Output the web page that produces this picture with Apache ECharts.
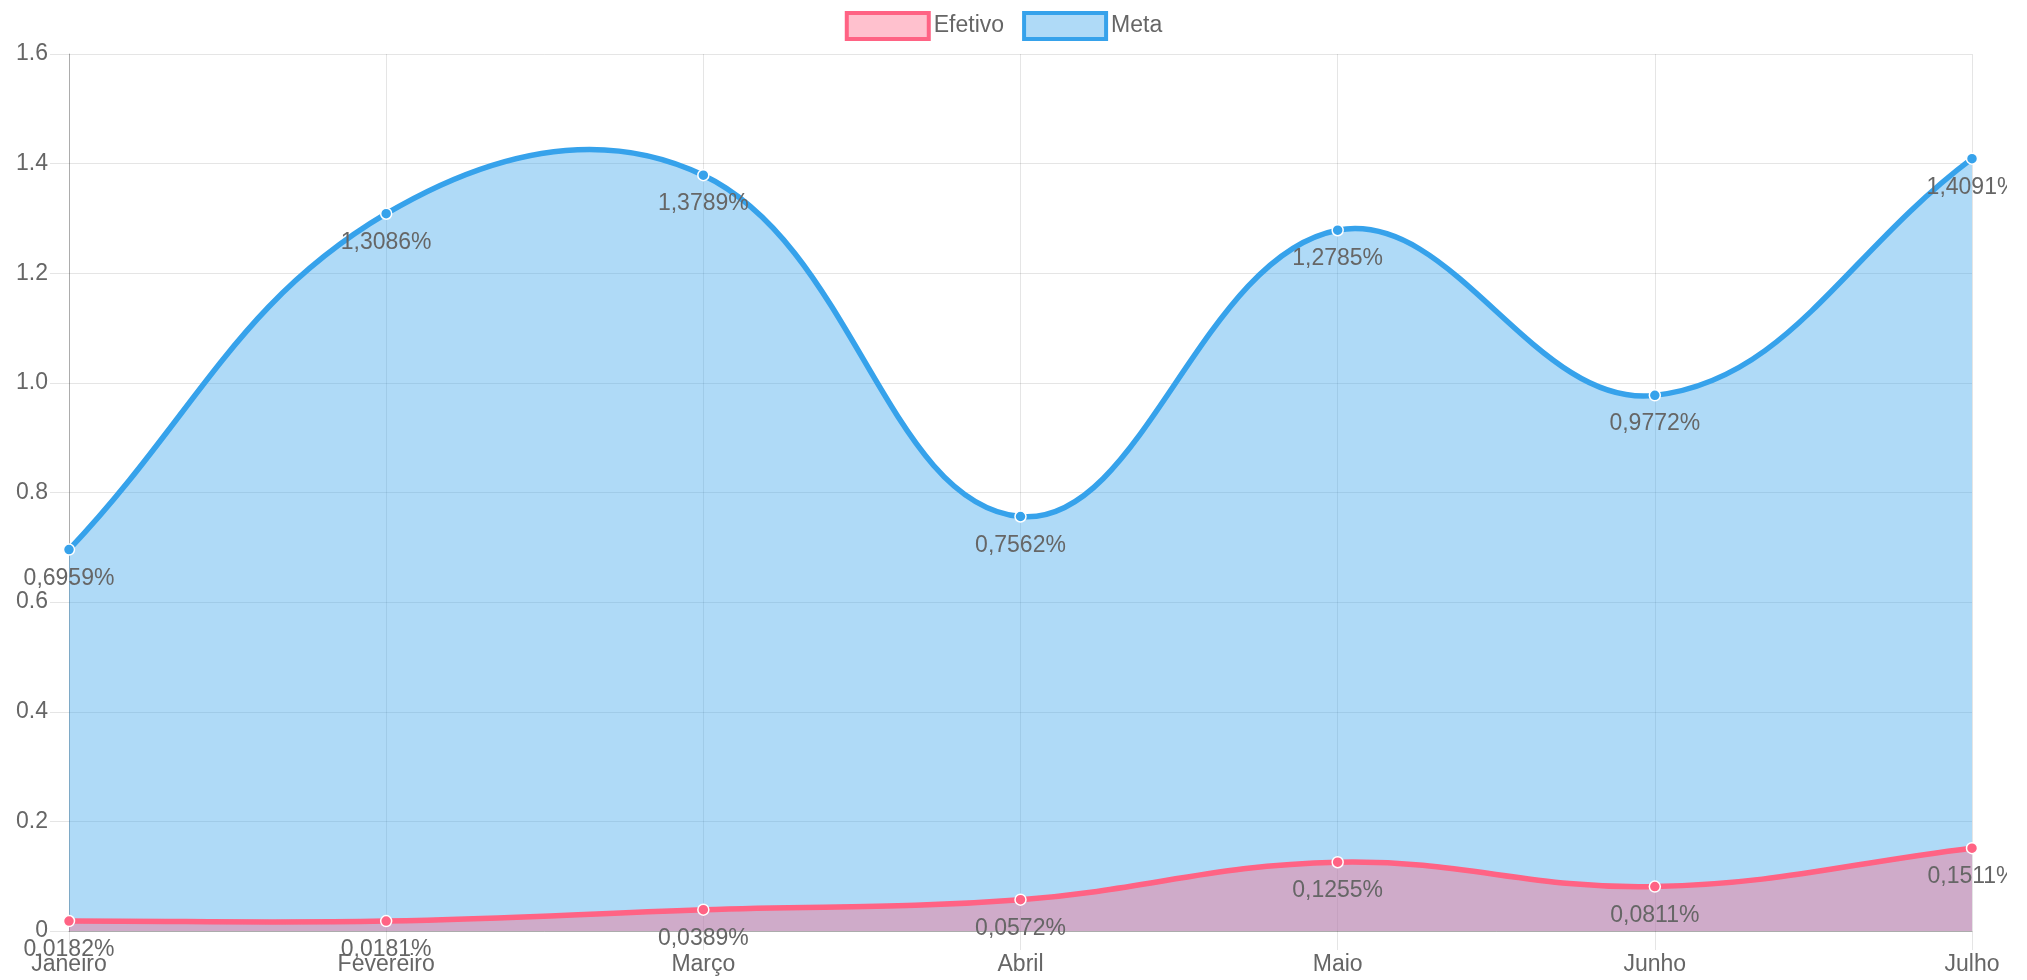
<!DOCTYPE html>
<html>
<head>
<meta charset="utf-8">
<script src="https://cdn.jsdelivr.net/npm/echarts@6/dist/echarts.min.js"></script>
<style>
  html, body { margin: 0; padding: 0; background: #fff; }
  #chart { width: 2007px; height: 980px; }
</style>
</head>
<body>
<div id="chart"></div>
<script>
const months = ["Janeiro", "Fevereiro", "Março", "Abril", "Maio", "Junho", "Julho"];
const efetivo = [0.0182, 0.0181, 0.0389, 0.0572, 0.1255, 0.0811, 0.1511];
const meta = [0.6959, 1.3086, 1.3789, 0.7562, 1.2785, 0.9772, 1.4091];

const fontFamily = "'Liberation Sans', Arial, sans-serif";
const textColor = "#666";
const tension = 0.4;

function percentLabel(params) {
  return params.value.toFixed(4).replace(".", ",") + "%";
}

// bezier path through the points, control points computed like a tension spline
function splinePath(values, api) {
  const pts = values.map((v, i) => api.coord([i, v]));
  const cps = pts.map((cur, i) => {
    const prev = pts[i - 1] || cur;
    const next = pts[i + 1] || cur;
    const d01 = Math.hypot(cur[0] - prev[0], cur[1] - prev[1]);
    const d12 = Math.hypot(next[0] - cur[0], next[1] - cur[1]);
    const s01 = d01 + d12 ? d01 / (d01 + d12) : 0;
    const s12 = d01 + d12 ? d12 / (d01 + d12) : 0;
    const fa = tension * s01, fb = tension * s12;
    return {
      before: [cur[0] - fa * (next[0] - prev[0]), cur[1] - fa * (next[1] - prev[1])],
      after: [cur[0] + fb * (next[0] - prev[0]), cur[1] + fb * (next[1] - prev[1])]
    };
  });
  let d = "M" + pts[0][0] + " " + pts[0][1];
  for (let i = 1; i < pts.length; i++) {
    d += " C" + cps[i - 1].after.join(" ") + " " + cps[i].before.join(" ") + " " + pts[i].join(" ");
  }
  return { d: d, pts: pts };
}

function curveSeries(values, stroke, fill, z) {
  return {
    type: "custom",
    data: [[0, values[0]]],
    silent: true,
    z: z,
    renderItem: (params, api) => {
      const path = splinePath(values, api);
      const base = api.coord([0, 0])[1];
      const last = path.pts[path.pts.length - 1];
      const first = path.pts[0];
      const area = path.d + " L" + last[0] + " " + base + " L" + first[0] + " " + base + " Z";
      return {
        type: "group",
        children: [
          { type: "path", shape: { pathData: area }, style: { fill: fill, stroke: null } },
          { type: "path", shape: { pathData: path.d }, style: { fill: null, stroke: stroke, lineWidth: 5.5 } }
        ]
      };
    }
  };
}

function pointSeries(name, values, color) {
  return {
    name: name,
    type: "line",
    data: values,
    symbol: "circle",
    symbolSize: 11,
    z: 5,
    lineStyle: { width: 0, opacity: 0 },
    itemStyle: { color: color, borderColor: "#fff", borderWidth: 1.5 },
    label: {
      show: true,
      position: "bottom",
      distance: 11,
      fontSize: 23,
      color: textColor,
      fontFamily: fontFamily,
      formatter: percentLabel
    }
  };
}

const chart = echarts.init(document.getElementById("chart"));
chart.setOption({
  animation: false,
  textStyle: { fontFamily: fontFamily },
  legend: {
    top: 6,
    left: "center",
    icon: "rect",
    itemWidth: 82,
    itemHeight: 26,
    itemGap: 18,
    textStyle: { fontSize: 23, color: textColor, fontFamily: fontFamily },
    data: [
      { name: "Efetivo", itemStyle: { color: "rgba(255,99,132,0.4)", borderColor: "#ff6384", borderWidth: 4 } },
      { name: "Meta", itemStyle: { color: "rgba(54,162,235,0.4)", borderColor: "#36a2eb", borderWidth: 4 } }
    ]
  },
  grid: { left: 69, right: 35, top: 54, bottom: 49, containLabel: false },
  xAxis: {
    type: "category",
    data: months,
    boundaryGap: false,
    axisLine: { show: true, lineStyle: { color: "rgba(0,0,0,0.25)", width: 1 } },
    axisTick: { show: true, length: 19, lineStyle: { color: "rgba(0,0,0,0.1)" } },
    splitLine: { show: true, lineStyle: { color: "rgba(0,0,0,0.1)" } },
    axisLabel: { margin: 22, fontSize: 23, color: textColor, fontFamily: fontFamily }
  },
  yAxis: {
    type: "value",
    min: 0,
    max: 1.6,
    interval: 0.2,
    axisLine: { show: true, lineStyle: { color: "rgba(0,0,0,0.25)", width: 1 } },
    axisTick: { show: true, length: 19, lineStyle: { color: "rgba(0,0,0,0.1)" } },
    splitLine: { show: true, lineStyle: { color: "rgba(0,0,0,0.1)" } },
    axisLabel: {
      margin: 21,
      fontSize: 23,
      color: textColor,
      fontFamily: fontFamily,
      formatter: (v) => (v === 0 ? "0" : v.toFixed(1))
    }
  },
  series: [
    curveSeries(meta, "#36a2eb", "rgba(54,162,235,0.4)", 2),
    curveSeries(efetivo, "#ff6384", "rgba(255,99,132,0.4)", 3),
    pointSeries("Meta", meta, "#36a2eb"),
    pointSeries("Efetivo", efetivo, "#ff6384")
  ]
});
</script>
</body>
</html>
